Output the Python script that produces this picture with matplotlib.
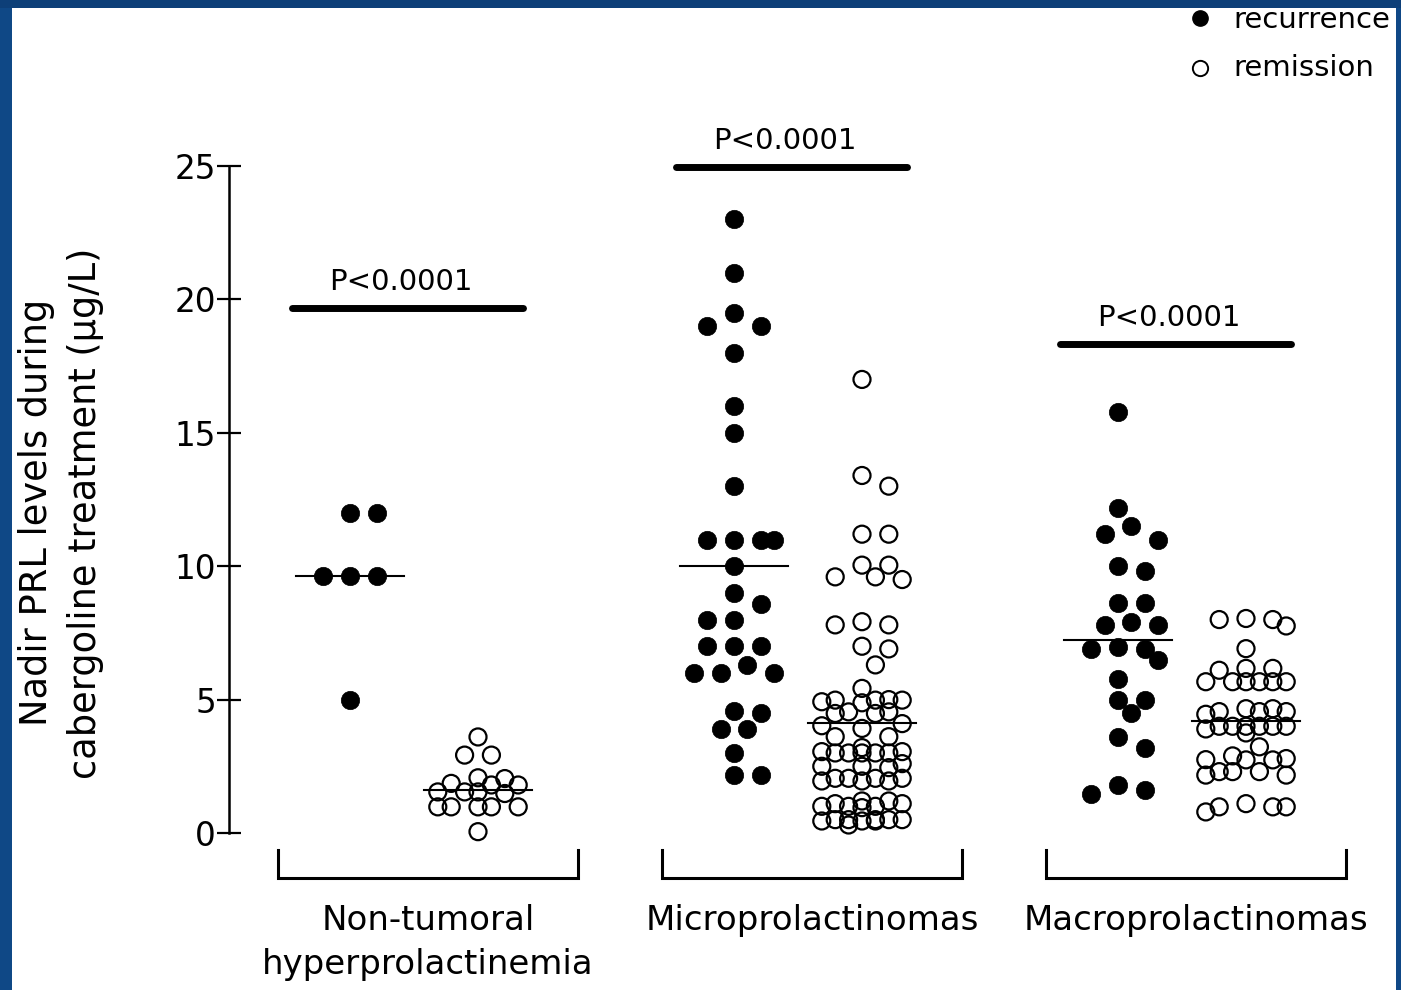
import numpy as np
import matplotlib
matplotlib.use("Agg")
import matplotlib.pyplot as plt
from matplotlib.patches import Rectangle

plt.rcParams['font.family'] = ['DejaVu Sans']

# values (ug/L)
groups = ['Non-tumoral\nhyperprolactinemia', 'Microprolactinomas', 'Macroprolactinomas']

nt_rec = [12.0, 12.0, 9.63, 9.63, 9.63, 4.98]
nt_rem = [3.6, 2.92, 2.92, 2.07, 2.04, 1.86, 1.80, 1.80, 1.54, 1.54, 1.54, 1.48,
          0.98, 0.98, 0.98, 0.98, 0.98, 0.05]

micro_rec = [23.0, 21.0, 19.5, 19.0, 19.0, 18.0, 16.0, 15.0, 13.0, 11.0, 11.0, 11.0,
             11.0, 10.0, 8.98, 8.58, 7.98, 7.98, 7.01, 7.01, 7.01, 6.30, 5.99, 5.99,
             5.99, 4.58, 4.48, 3.88, 3.88, 2.98, 2.17, 2.17]
micro_rem = [17.0, 13.4, 13.0, 11.2, 11.2, 10.04, 10.04, 9.6, 9.6, 9.5, 7.92, 7.8,
             7.8, 7.0, 6.9, 6.3, 5.42, 5.0, 4.98, 4.98, 4.98, 4.92, 4.88, 4.54, 4.54,
             4.48, 4.48, 4.1, 4.02, 3.92, 3.61, 3.61,
             3.05, 3.0, 3.0, 3.0, 3.2, 3.0, 3.0, 3.05,
             2.5, 2.6, 2.45, 2.5,
             2.05, 1.95, 2.05, 1.95, 2.05, 1.95, 2.05,
             1.1, 1.0, 1.1, 1.2, 1.0, 1.2, 1.0, 0.95,
             0.5, 0.45, 0.5, 0.45, 0.3, 0.5, 0.45, 0.5, 0.5]

macro_rec = [15.79, 12.19, 11.5, 11.2, 11.0, 10.0, 9.82, 8.63, 8.63, 7.92, 7.80, 7.80,
             6.98, 6.91, 6.91, 6.48, 5.79, 5.0, 5.0, 4.48, 3.58, 3.17, 1.80, 1.63, 1.48]
macro_rem = [8.04, 8.0, 8.0, 7.76, 6.91, 6.17, 6.17, 6.1,
             5.67, 5.67, 5.67, 5.67, 5.67, 5.67,
             4.55, 4.55, 4.66, 4.55, 4.66, 4.45,
             4.0, 3.9, 4.0, 3.75, 4.0, 4.0, 4.0, 4.0,
             3.23, 2.89, 2.79, 2.75, 2.74, 2.74, 2.30, 2.30, 2.30, 2.17, 2.17,
             1.1, 0.98, 0.98, 0.98, 0.79]

medians = [9.63, 1.61, 10.0, 4.13, 7.25, 4.2]
p_labels = ['P<0.0001', 'P<0.0001', 'P<0.0001']
p_heights = [19.68, 24.98, 18.33]

series = [nt_rec, nt_rem, micro_rec, micro_rem, macro_rec, macro_rem]
xpos = [0, 1, 3, 4, 6, 7]
filled = [True, False, True, False, True, False]

W, H = 1401, 990
PPX = 128.0    # pixels per x unit
PPY = 26.68    # pixels per y unit


def swarm(values, step=13.4, min_dist=19.0, max_steps=3):
    # simple column swarm in pixel space
    vals = np.asarray(values, dtype=float)
    order = np.argsort(-vals, kind='stable')
    cands = [0]
    for k in range(1, max_steps + 1):
        cands += [k, -k]
    placed = []
    offs = np.zeros(len(vals))
    for i in order:
        y = vals[i] * PPY
        best, best_d = 0, -1
        for c in cands:
            x = c * step
            d = min([np.hypot(x - px, y - py) for px, py in placed], default=1e9)
            if d >= min_dist:
                best = c
                break
            if d > best_d:
                best_d, best = d, c
        offs[i] = best * step / PPX
        placed.append((best * step, y))
    return offs


fig = plt.figure(figsize=(W / 100, H / 100), dpi=100, facecolor='#0f4886')
fig.patches.append(Rectangle((12 / W, 0), (1396 - 12) / W, 1 - 8 / H,
                             transform=fig.transFigure, facecolor='white',
                             edgecolor='none', zorder=-5))

# axes placed so that y=0 sits at px 833 and y=25 at px 166, x=0 at px 350
x_left, x_right = (229 - 350) / PPX, (1390 - 350) / PPX
y_bot, y_top = -2.0, 26.0
px_bot = 833 + 2.0 * PPY
px_top = 833 - 26.0 * PPY
ax_w = 1390 - 229
ax = fig.add_axes([229 / W, 1 - px_bot / H, ax_w / W, (px_bot - px_top) / H])
ax.set_facecolor('none')
ax.set_xlim(x_left, x_right)
ax.set_ylim(y_bot, y_top)

for vals, x0, full in zip(series, xpos, filled):
    xs = x0 + swarm(vals)
    if full:
        ax.scatter(xs, vals, s=175, color='black', edgecolors='black',
                   linewidths=0.5, zorder=3, clip_on=False)
    else:
        ax.scatter(xs, vals, s=150, facecolors='none', edgecolors='black',
                   linewidths=1.6, zorder=3, clip_on=False)

for x0, m in zip(xpos, medians):
    ax.plot([x0 - 0.42, x0 + 0.42], [m, m], color='black', lw=1.5, zorder=4)

# p-value bars over each pair
for k, (lab, h) in enumerate(zip(p_labels, p_heights)):
    a, b = xpos[2 * k] - 0.45, xpos[2 * k] + 1.35
    ax.plot([a, b], [h, h], color='black', lw=5, solid_capstyle='round',
            clip_on=False)
    ax.text((a + b) / 2 - 0.05, h + 0.45, lab, ha='center', va='bottom',
            fontsize=21)

# y axis only from 0 to 25
for s in ['top', 'right', 'bottom']:
    ax.spines[s].set_visible(False)
ax.spines['left'].set_bounds(0, 25)
ax.spines['left'].set_linewidth(1.8)
ax.set_yticks([0, 5, 10, 15, 20, 25])
ax.tick_params(axis='y', direction='inout', length=17, width=1.6,
               labelsize=23.5, pad=1)
ax.set_xticks([])

# group brackets below the axis
for k, name in enumerate(groups):
    a, b = xpos[2 * k] - 0.56, xpos[2 * k] + 1.78
    ax.plot([a, a, b, b], [-0.64, -1.69, -1.69, -0.64], color='black', lw=2.2,
            clip_on=False, solid_joinstyle='miter')
    ax.text((a + b) / 2, -2.65, name, ha='center', va='top', fontsize=24.5,
            linespacing=1.45)

ax.set_ylabel('Nadir PRL levels during\ncabergoline treatment (\u03bcg/L)',
              fontsize=26.5, linespacing=1.4)
ax.yaxis.set_label_coords((104 - 229) / ax_w, 0.5)

# legend in the top right corner (cut by the slide border)
lax = fig.add_axes([0, 0, 1, 1], facecolor='none')
lax.set_xlim(0, W)
lax.set_ylim(H, 0)
lax.axis('off')
lax.plot([1200], [18], 'o', color='black', ms=11)
lax.plot([1200], [68], 'o', mfc='none', mec='black', ms=11, mew=1.4)
lax.text(1233, 20, 'recurrence', va='center', ha='left', fontsize=21)
lax.text(1233, 68, 'remission', va='center', ha='left', fontsize=21)

# slide border on top
fig.patches.append(Rectangle((1396 / W, 0), 5 / W, 1, transform=fig.transFigure,
                             facecolor='#0f4886', edgecolor='none', zorder=10))
fig.patches.append(Rectangle((0, 1 - 8 / H), 1, 8 / H, transform=fig.transFigure,
                             facecolor='#0d3f78', edgecolor='none', zorder=10))

fig.savefig('out.png', dpi=100, facecolor=fig.get_facecolor())
